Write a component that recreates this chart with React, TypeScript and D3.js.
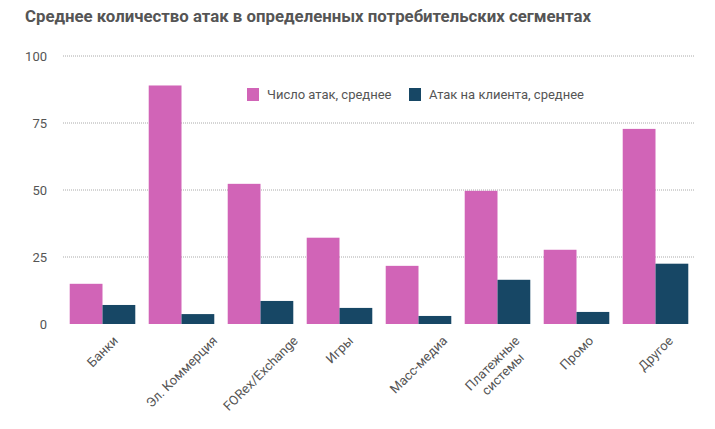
import React, { useLayoutEffect, useRef, useState } from "react";
import * as d3 from "d3";

const categories = ["Банки", "Эл. Коммерция", "FORex/Exchange", "Игры", "Масс-медиа", "Платежные\nсистемы", "Промо", "Другое"];
const seriesNames = ["Число атак, среднее", "Атак на клиента, среднее"];
const attacksAvg = [15, 89, 52.3, 32.2, 21.7, 49.7, 27.7, 72.8];
const perClientAvg = [7.1, 3.7, 8.6, 6, 3, 16.5, 4.5, 22.5];
const yTicks = [0, 25, 50, 75, 100];
const colors = ["#D164B7", "#174765"];

const W = 715, H = 429;
const M = { left: 63, right: 20, top: 56, bottom: 105 };
const FONT = "Roboto, 'Noto Sans', sans-serif";

function RotLabel({ cx, top, label }: { cx: number; top: number; label: string }) {
  const ref = useRef<SVGTextElement>(null);
  const [len, setLen] = useState(0);
  const lines = label.split("\n");
  const lh = 15;
  const h = lines.length * lh;
  useLayoutEffect(() => {
    if (!ref.current) return;
    let m = 0;
    ref.current.querySelectorAll("tspan").forEach((t) => {
      m = Math.max(m, (t as SVGTSpanElement).getComputedTextLength());
    });
    setLen(m);
  }, [label]);
  const cy = top + (len + h) * Math.SQRT1_2 / 2;
  return (
    <text ref={ref} transform={`translate(${cx},${cy}) rotate(-45)`} textAnchor="middle" fontSize={13} fill="#555">
      {lines.map((ln, k) => (
        <tspan key={k} x={0} y={(k - (lines.length - 1) / 2) * lh} dy="0.35em">{ln}</tspan>
      ))}
    </text>
  );
}

export default function App() {
  const x = d3.scaleBand<string>().domain(categories).range([M.left, W - M.right]).paddingInner(0.17).paddingOuter(0.085);
  const x1 = d3.scaleBand<number>().domain([0, 1]).range([0, x.bandwidth()]).padding(0);
  const y = d3.scaleLinear().domain([0, 100]).range([324, 56]);
  const series = [attacksAvg, perClientAvg];
  return (
    <svg width={W} height={H} style={{ position: "absolute", left: 0, top: 0, background: "#fff" }} fontFamily={FONT}>
      <text x={25} y={22} fontSize={16.8} fontWeight={700} fill="#555">Среднее количество атак в определенных потребительских сегментах</text>
      {yTicks.map((t) => (
        <g key={t}>
          {t > 0 && <line x1={M.left} x2={W - M.right} y1={y(t)} y2={y(t)} stroke="#aaa" strokeWidth={1} strokeDasharray="1,1" />}
          <text x={47} y={y(t)} dy="0.35em" textAnchor="end" fontSize={13} fill="#555">{t}</text>
        </g>
      ))}
      {categories.map((c, i) => (
        <g key={c}>
          {series.map((s, j) => (
            <rect key={j} x={(x(c) as number) + (x1(j) as number)} y={y(s[i])} width={x1.bandwidth()} height={y(0) - y(s[i])} fill={colors[j]} />
          ))}
          <RotLabel cx={(x(c) as number) + x.bandwidth() / 2} top={333} label={c} />
        </g>
      ))}
      {seriesNames.map((n, j) => {
        const lx = [247, 409][j];
        return (
          <g key={n}>
            <rect x={lx} y={88} width={12} height={13} fill={colors[j]} />
            <text x={lx + 20} y={99} fontSize={13} fill="#555">{n}</text>
          </g>
        );
      })}
    </svg>
  );
}
